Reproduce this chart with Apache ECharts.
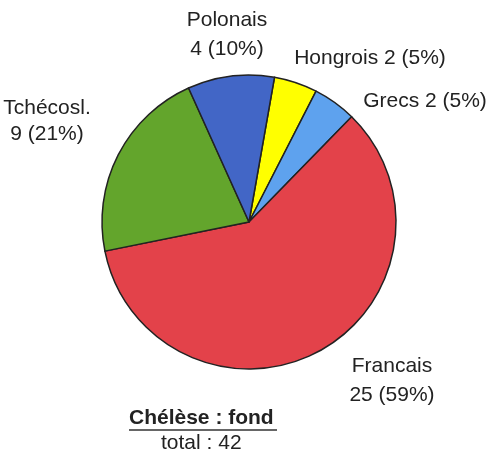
<!DOCTYPE html>
<html><head><meta charset="utf-8">
<script src="https://cdn.jsdelivr.net/npm/echarts@6/dist/echarts.min.js"></script>
<style>html,body{margin:0;padding:0;background:#fff}#c{width:491px;height:458px}</style>
</head><body><div id="c"></div>
<script>
const categories = ['Hongrois', 'Grecs', 'Francais', 'Tchécosl.', 'Polonais'];
const values = [2, 2, 25, 9, 4];
const percents = [5, 5, 59, 21, 10];
const colors = ['#ffff00', '#5ea2ee', '#e3424a', '#63a52c', '#4266c6'];
const twoLine = [false, false, true, true, true];
const titleText = 'Chélèse : fond';
const totalText = 'total : 42';

// label anchor positions (centre of text block)
const labelPos = [[370, 58], [425, 101], [392, 381], [47, 121], [227, 35]];
const lineHeights = [28, 28, 29, 26, 29];

const chart = echarts.init(document.getElementById('c'), null, {renderer: 'canvas'});
const FONT = 'Liberation Sans, Arial, sans-serif';
chart.setOption({
  animation: false,
  backgroundColor: '#fff',
  series: [{
    type: 'pie',
    center: [249, 222],
    radius: 147,
    startAngle: 80,
    clockwise: true,
    label: {
      show: true,
      position: 'outside',
      fontFamily: FONT,
      fontSize: 21,
      color: '#222',
      lineHeight: 28,
      align: 'center',
      overflow: 'none',
      formatter: p => twoLine[p.dataIndex]
        ? p.name + '\n' + p.value + ' (' + percents[p.dataIndex] + '%)'
        : p.name + ' ' + p.value + ' (' + percents[p.dataIndex] + '%)'
    },
    labelLine: {show: false},
    labelLayout: p => ({
      x: labelPos[p.dataIndex][0],
      y: labelPos[p.dataIndex][1],
      align: 'center',
      verticalAlign: 'middle'
    }),
    itemStyle: {borderColor: '#222', borderWidth: 1.5},
    emphasis: {disabled: true},
    data: categories.map((c, i) => ({
      name: c, value: values[i],
      itemStyle: {color: colors[i]},
      label: {lineHeight: lineHeights[i]}
    }))
  }],
  graphic: [
    {type: 'text', left: 129, top: 408, style: {text: titleText, font: 'bold 21px ' + FONT, fill: '#222'}},
    {type: 'line', shape: {x1: 129, y1: 430, x2: 277, y2: 430}, style: {stroke: '#333', lineWidth: 1.5}},
    {type: 'text', left: 161, top: 433, style: {text: totalText, font: '21px ' + FONT, fill: '#222'}}
  ]
});
</script></body></html>
